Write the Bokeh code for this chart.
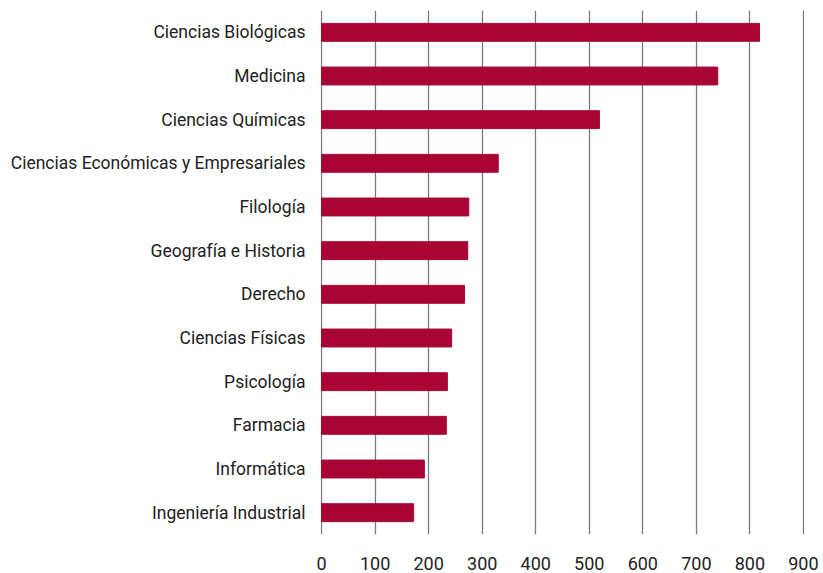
from bokeh.plotting import figure
from bokeh.models import FactorRange, Range1d, FixedTicker
from bokeh.embed import file_html
from bokeh.resources import INLINE

categories = ["Ciencias Biológicas", "Medicina", "Ciencias Químicas",
              "Ciencias Económicas y Empresariales", "Filología", "Geografía e Historia",
              "Derecho", "Ciencias Físicas", "Psicología", "Farmacia", "Informática",
              "Ingeniería Industrial"]
values = [818, 740, 519, 330, 275, 273, 267, 243, 235, 233, 192, 172]
ticks = [0, 100, 200, 300, 400, 500, 600, 700, 800, 900]

FONT = "Roboto"

p = figure(width=823, height=573, output_backend="svg", toolbar_location=None,
           y_range=FactorRange(*reversed(categories), range_padding=0),
           x_range=Range1d(-2, 902))
p.min_border_left = 320
p.min_border_right = 19
p.min_border_top = 10
p.min_border_bottom = 39
p.outline_line_color = None

p.hbar(y=categories, right=values, left=0, height=0.41, color="#A80535")

p.xgrid.ticker = FixedTicker(ticks=ticks)
p.xgrid.grid_line_color = "#7a7a7a"
p.xgrid.grid_line_width = 1.3
p.ygrid.grid_line_color = None

p.xaxis.ticker = FixedTicker(ticks=ticks)
p.xaxis.axis_line_color = None
p.xaxis.major_tick_line_color = None
p.xaxis.minor_tick_line_color = None
p.xaxis.major_tick_out = 0
p.xaxis.major_tick_in = 0
p.xaxis.major_label_standoff = 22
p.xaxis.major_label_text_font = FONT
p.xaxis.major_label_text_font_size = "18px"
p.xaxis.major_label_text_color = "#222222"

p.yaxis.axis_line_color = None
p.yaxis.major_tick_line_color = None
p.yaxis.minor_tick_line_color = None
p.yaxis.major_tick_out = 0
p.yaxis.major_tick_in = 0
p.yaxis.major_label_standoff = 15
p.yaxis.major_label_text_font = FONT
p.yaxis.major_label_text_font_size = "17.5px"
p.yaxis.major_label_text_color = "#222222"

open("out.html", "w").write(file_html(p, INLINE))
